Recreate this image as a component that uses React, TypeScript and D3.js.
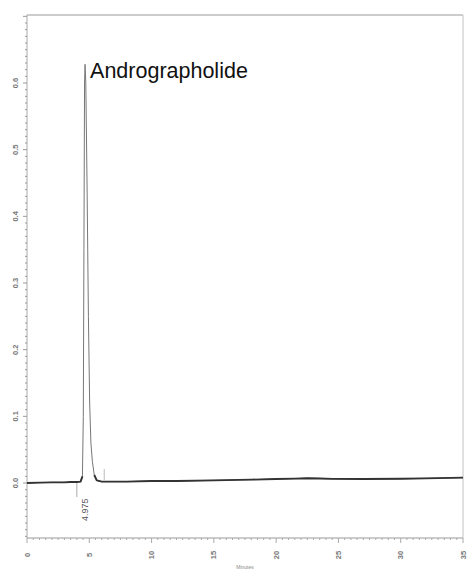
import React from "react";
import * as d3 from "d3";

const timeMin: number[] = [0, 1, 2, 3, 3.5, 4.0, 4.3, 4.45, 4.52, 4.57, 4.62, 4.66, 4.72, 4.82, 4.93, 5.03, 5.13, 5.25, 5.4, 5.6, 6.0, 8, 10, 12, 15, 18, 20, 21.5, 22.5, 23.5, 24.5, 27, 30, 32, 35];
const absorb: number[] = [0, 0.0005, 0.001, 0.001, 0.0015, 0.0015, 0.002, 0.01, 0.1, 0.35, 0.6, 0.628, 0.6, 0.45, 0.25, 0.12, 0.06, 0.032, 0.012, 0.004, 0.002, 0.002, 0.003, 0.003, 0.004, 0.005, 0.006, 0.0065, 0.0072, 0.0068, 0.0062, 0.006, 0.0063, 0.007, 0.008];
const yTicks: number[] = [0.0, 0.1, 0.2, 0.3, 0.4, 0.5, 0.6];
const xTicks: number[] = [0, 5, 10, 15, 20, 25, 30, 35];
const peakLabel = "Andrographolide";
const peakTime = "4.975";
const peakApex = 4.66;
const peakStart = 4.0;
const peakEnd = 6.2;

export default function App() {
  const W = 469, H = 573;
  const left = 27, right = 463, top = 15, bottom = 538;
  const x = d3.scaleLinear().domain([0, 35]).range([left, right]);
  const y = d3.scaleLinear().domain([-0.0825, 0.702]).range([bottom, top]);
  const line = d3.line<number>().x((_, i) => x(timeMin[i])).y((d) => y(d));
  const baseLine = d3.line<number>()
    .defined((_, i) => timeMin[i] <= 4.45 || timeMin[i] >= 5.4)
    .x((_, i) => x(timeMin[i])).y((d) => y(d));
  const yMinor = d3.range(-8, 71).map((k) => k / 100);
  const xMinor = d3.range(0, 71).map((k) => k / 2);
  const apexVal = absorb[timeMin.indexOf(peakApex)];
  const font = "Liberation Sans, Arial, sans-serif";
  return (
    <svg width={W} height={H} style={{ position: "absolute", left: 0, top: 0, background: "#fff" }}>
      <rect x={0} y={0} width={W} height={H} fill="#fff" />
      <line x1={left} x2={right} y1={top} y2={top} stroke="#bbb" strokeWidth={1.5} />
      <line x1={right} x2={right} y1={top} y2={bottom} stroke="#ccc" strokeWidth={1.2} />
      <line x1={left} x2={left} y1={top} y2={bottom} stroke="#aaa" strokeWidth={1} />
      <line x1={left} x2={right} y1={bottom} y2={bottom} stroke="#999" strokeWidth={1.2} />
      {yMinor.map((v, i) => {
        const major = Math.abs(Math.round(v * 100) % 10) === 0;
        return <line key={"ym" + i} x1={left - (major ? 4 : 2)} x2={left} y1={y(v)} y2={y(v)} stroke="#999" strokeWidth={1} />;
      })}
      {xMinor.map((v, i) => {
        const major = v % 5 === 0;
        return <line key={"xm" + i} x1={x(v)} x2={x(v)} y1={bottom} y2={bottom + (major ? 5 : 2)} stroke="#aaa" strokeWidth={1} />;
      })}
      {yTicks.map((v) => (
        <text key={"yl" + v} transform={`translate(${left - 9},${y(v)}) rotate(-90)`} textAnchor="middle" fontFamily={font} fontSize={7.5} fontWeight="bold" fill="#777">
          {v.toFixed(1)}
        </text>
      ))}
      {xTicks.map((v) => (
        <text key={"xl" + v} transform={`translate(${x(v) + 2.5},${bottom + 17}) rotate(-90)`} textAnchor="middle" fontFamily={font} fontSize={7.5} fontWeight="bold" fill="#777">
          {v}
        </text>
      ))}
      <text x={x(17.5)} y={569} textAnchor="middle" fontFamily={font} fontSize={5} fill="#888">Minutes</text>
      <line x1={x(peakStart)} x2={x(peakStart)} y1={y(0)} y2={y(0) + 14} stroke="#aaa" strokeWidth={1} />
      <line x1={x(peakEnd)} x2={x(peakEnd)} y1={y(0) - 14} y2={y(0) - 3} stroke="#bbb" strokeWidth={1} />
      <path d={line(absorb) || ""} fill="none" stroke="#777" strokeWidth={1} strokeLinejoin="round" />
      <path d={baseLine(absorb) || ""} fill="none" stroke="#333" strokeWidth={1.9} strokeLinejoin="round" />
      <text transform={`translate(${x(peakApex) + 3},${y(0) + 38}) rotate(-90)`} textAnchor="start" fontFamily={font} fontSize={9} fill="#555">
        {peakTime}
      </text>
      <text x={x(peakApex) + 5} y={y(apexVal) + 14} fontFamily={font} fontSize={21.5} fill="#111">
        {peakLabel}
      </text>
    </svg>
  );
}
